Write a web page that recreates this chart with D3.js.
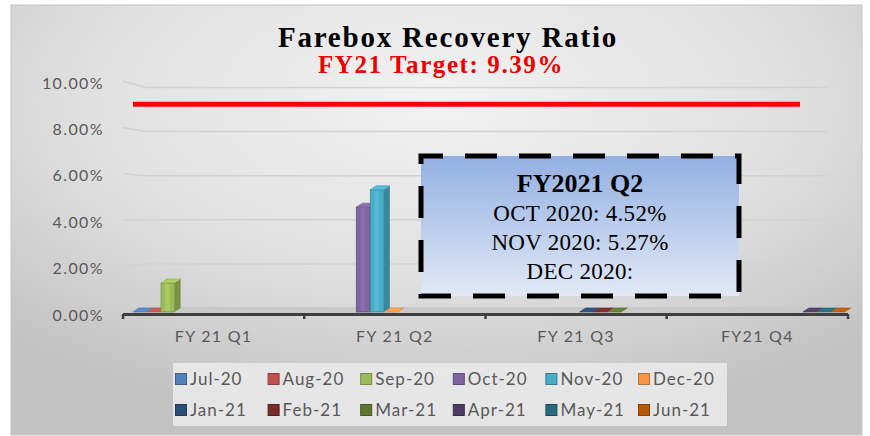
<!DOCTYPE html>
<html>
<head>
<meta charset="utf-8">
<script src="https://cdn.jsdelivr.net/npm/d3@7"></script>
<style>
  body { margin: 0; background: #fff; }
  svg { display: block; }
</style>
</head>
<body>
<div id="chart"></div>
<script>
// chart data
const quarters = ['FY 21 Q1', 'FY 21 Q2', 'FY 21 Q3', 'FY21 Q4'];
const months = ['Jul-20', 'Aug-20', 'Sep-20', 'Oct-20', 'Nov-20', 'Dec-20',
                'Jan-21', 'Feb-21', 'Mar-21', 'Apr-21', 'May-21', 'Jun-21'];
const monthQuarter = ['FY 21 Q1', 'FY 21 Q1', 'FY 21 Q1', 'FY 21 Q2', 'FY 21 Q2', 'FY 21 Q2',
                      'FY 21 Q3', 'FY 21 Q3', 'FY 21 Q3', 'FY21 Q4', 'FY21 Q4', 'FY21 Q4'];
const monthValues = [0, 0, 0.0125, 0.0452, 0.0527, 0, 0, 0, 0, 0, 0, 0];
const monthColors = ['#4f81bd', '#c0504d', '#9bbb59', '#8064a2', '#4bacc6', '#f79646',
                     '#2c4d75', '#772c2a', '#5f7530', '#4d3b62', '#276a7c', '#b65708'];
const yTicks = [0, 0.02, 0.04, 0.06, 0.08, 0.10];
const targetLevel = 0.0895; // where the red target line sits in the picture
const titleText = 'Farebox Recovery Ratio';
const subtitleText = 'FY21 Target: 9.39%';
const noteTitle = 'FY2021 Q2';
const noteLines = ['OCT 2020: 4.52%', 'NOV 2020: 5.27%', 'DEC 2020:'];

const width = 870, height = 436;

const svg = d3.select('#chart').append('svg')
    .attr('width', width)
    .attr('height', height);

const defs = svg.append('defs');
const bg = defs.append('radialGradient')
    .attr('id', 'bg').attr('cx', '50%').attr('cy', '22%').attr('r', '75%');
bg.append('stop').attr('offset', '0%').attr('stop-color', '#f2f2f2');
bg.append('stop').attr('offset', '55%').attr('stop-color', '#e0e0e0');
bg.append('stop').attr('offset', '100%').attr('stop-color', '#c2c2c2');

const noteFill = defs.append('linearGradient')
    .attr('id', 'noteFill').attr('x1', 0).attr('y1', 0).attr('x2', 0).attr('y2', 1);
noteFill.append('stop').attr('offset', '0%').attr('stop-color', '#93b0e2');
noteFill.append('stop').attr('offset', '100%').attr('stop-color', '#e1e9f6');

// frame
svg.append('rect')
    .attr('x', 11).attr('y', 5)
    .attr('width', 851).attr('height', 430)
    .attr('fill', 'url(#bg)')
    .attr('stroke', '#c4c4c4')
    .attr('stroke-width', 1);

// scales
const x0 = d3.scaleBand(quarters, [123, 848]).padding(0);
const x1 = d3.scaleBand(months, [10, x0.bandwidth() - 3]);
const y = d3.scaleLinear([0, 0.10], [312, 80]);
const yBack = d3.scaleLinear([0, 0.10], [308, 87.5]);
const depthX = 6, depthY = 4;

// back-wall gridlines
svg.append('g')
    .selectAll('path')
    .data(yTicks.filter(d => d > 0))
    .join('path')
    .attr('d', d => `M${x0.range()[0]},${y(d) + 1}L${x0.range()[0] + 22},${yBack(d)}L827,${yBack(d)}`)
    .attr('fill', 'none')
    .attr('stroke', '#d2d2d2')
    .attr('stroke-width', 1.5);

// y labels
svg.append('g')
    .selectAll('text')
    .data(yTicks)
    .join('text')
    .attr('x', 104)
    .attr('y', d => y(d) + 3)
    .attr('dy', '0.35em')
    .attr('text-anchor', 'end')
    .attr('fill', '#595959')
    .style('font', '16px Lato')
    .style('letter-spacing', '1.4px')
    .text(d3.format('.2%'));

// floor
const [fx0, fx1] = x0.range();
svg.append('path')
    .attr('d', `M${fx0},${y(0) + 1}L${fx0 + 22},${y(0) - 5}L${fx1 - 8},${y(0) - 5}L${fx1},${y(0) + 1}Z`)
    .attr('fill', '#c9c9c9');
svg.append('line')
    .attr('x1', fx0).attr('x2', fx1)
    .attr('y1', y(0) + 2.5).attr('y2', y(0) + 2.5)
    .attr('stroke', '#3f3f3f').attr('stroke-width', 3);
svg.append('g')
    .selectAll('line')
    .data(quarters.map(q => x0(q)).concat([fx1]))
    .join('line')
    .attr('x1', d => d).attr('x2', d => d)
    .attr('y1', y(0) + 2).attr('y2', y(0) + 7)
    .attr('stroke', '#3f3f3f').attr('stroke-width', 2.5);

// x labels
svg.append('g')
    .selectAll('text')
    .data(quarters)
    .join('text')
    .attr('x', d => x0(d) + x0.bandwidth() / 2)
    .attr('y', 336)
    .attr('dy', '0.35em')
    .attr('text-anchor', 'middle')
    .attr('fill', '#595959')
    .style('font', '16px Lato')
    .style('letter-spacing', '1.3px')
    .text(d => d);

// target line
svg.append('line')
    .attr('x1', fx0 + 10).attr('x2', 800)
    .attr('y1', y(targetLevel)).attr('y2', y(targetLevel))
    .attr('stroke', '#ff0000').attr('stroke-width', 5);

// 3d bars
const bars = svg.append('g')
    .selectAll('g')
    .data(months.map((m, i) => ({ month: m, quarter: monthQuarter[i], value: monthValues[i], color: monthColors[i] })))
    .join('g');

const bw = x1.bandwidth() - 0.5;
bars.each(function(d) {
  const g = d3.select(this);
  const bx = x0(d.quarter) + x1(d.month);
  const top = y(d.value), base = y(0);
  const c = d3.color(d.color);
  if (base - top > 0.5) {
    g.append('path')
        .attr('d', `M${bx + bw},${top}L${bx + bw + depthX},${top - depthY}L${bx + bw + depthX},${base - depthY}L${bx + bw},${base}Z`)
        .attr('fill', c.darker(0.7));
    g.append('rect')
        .attr('x', bx).attr('y', top)
        .attr('width', bw).attr('height', base - top)
        .attr('fill', c)
        .attr('stroke', c.darker(0.6)).attr('stroke-width', 0.8);
    g.append('rect')
        .attr('x', bx + bw * 0.3).attr('y', top + 1)
        .attr('width', bw * 0.35).attr('height', base - top - 2)
        .attr('fill', c.brighter(0.35)).attr('opacity', 0.6);
  }
  g.append('path')
      .attr('d', `M${bx},${top}L${bx + depthX},${top - depthY}L${bx + bw + depthX},${top - depthY}L${bx + bw},${top}Z`)
      .attr('fill', c.brighter(0.3))
      .attr('stroke', c.darker(0.3)).attr('stroke-width', 0.6);
});

// title
svg.append('text')
    .attr('x', 448).attr('y', 47)
    .attr('text-anchor', 'middle')
    .style('font', 'bold 29px "Liberation Serif"')
    .style('letter-spacing', '1.8px')
    .attr('fill', '#000')
    .text(titleText);

svg.append('text')
    .attr('x', 441).attr('y', 73)
    .attr('text-anchor', 'middle')
    .style('font', 'bold 25px "Liberation Serif"')
    .style('letter-spacing', '1.6px')
    .attr('fill', '#ee0000')
    .text(subtitleText);

// note box
const note = svg.append('g');
note.append('rect')
    .attr('x', 421).attr('y', 156)
    .attr('width', 318).attr('height', 140)
    .attr('fill', 'url(#noteFill)')
    .attr('stroke', '#000')
    .attr('stroke-width', 5)
    .attr('stroke-dasharray', '32,22')
    .attr('stroke-dashoffset', 10);

note.append('text')
    .attr('x', 580).attr('y', 192)
    .attr('text-anchor', 'middle')
    .style('font', 'bold 26px "Liberation Serif"')
    .text(noteTitle);

note.selectAll('text.line')
    .data(noteLines)
    .join('text')
    .attr('class', 'line')
    .attr('x', 580)
    .attr('y', (d, i) => 221 + i * 29)
    .attr('text-anchor', 'middle')
    .style('font', '23px "Liberation Serif"')
    .style('letter-spacing', '0.3px')
    .text(d => d);

// legend
const legend = svg.append('g');
legend.append('rect')
    .attr('x', 173).attr('y', 363)
    .attr('width', 554).attr('height', 63)
    .attr('fill', '#ebebeb').attr('opacity', 0.85);

const item = legend.selectAll('g')
    .data(months)
    .join('g')
    .attr('transform', (d, i) => `translate(${181 + (i % 6) * 92.6},${379 + Math.floor(i / 6) * 31})`);

item.append('rect')
    .attr('x', -5.5).attr('y', -5.5)
    .attr('width', 11).attr('height', 11)
    .attr('fill', (d, i) => monthColors[i])
    .attr('stroke', (d, i) => d3.color(monthColors[i]).darker(0.8))
    .attr('stroke-width', 1);

item.append('text')
    .attr('x', 9)
    .attr('dy', '0.35em')
    .attr('fill', '#595959')
    .style('font', '17px Lato')
    .style('letter-spacing', '1px')
    .text(d => d);
</script>
</body>
</html>
